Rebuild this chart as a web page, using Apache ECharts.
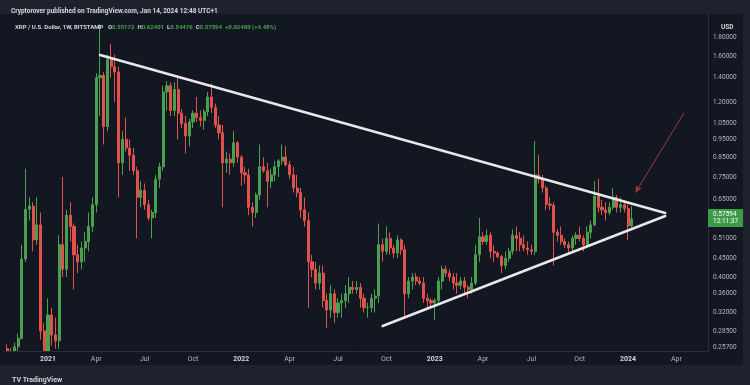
<!DOCTYPE html>
<html>
<head>
<meta charset="utf-8">
<script src="https://cdn.jsdelivr.net/npm/echarts@6/dist/echarts.min.js"></script>
<style>
html,body{margin:0;padding:0;background:#131722;}
#chart{width:750px;height:385px;}
</style>
</head>
<body>
<div id="chart"></div>
<script>
// ---- weekly candles XRP/USD (Bitstamp), first week 2020-10-19, last week 2024-01-08 ----
const firstWeek = '2020-10-19';
const totalWeeks = 189; // includes empty future weeks on the axis
const openP = [
 0.255,0.250,0.241,0.258,0.272,0.448,0.612,0.625,0.505,0.555,0.285,
 0.235,0.315,0.278,0.268,0.490,0.420,0.590,0.550,0.460,0.440,
 0.480,0.500,0.550,0.630,1.400,1.420,1.030,1.570,1.500,1.450,
 0.820,0.950,0.900,0.860,0.780,0.660,0.690,0.630,0.580,0.600,
 0.740,0.800,1.280,1.330,1.140,1.300,1.120,1.050,0.970,1.060,
 1.120,1.090,1.070,1.130,1.240,1.160,1.040,0.990,0.820,0.840,
 0.820,0.930,0.850,0.770,0.760,0.620,0.600,0.670,0.800,0.780,
 0.730,0.760,0.800,0.830,0.850,0.810,0.760,0.700,0.680,0.610,
 0.570,0.440,0.420,0.385,0.410,0.345,0.325,0.360,0.320,0.340,
 0.345,0.360,0.375,0.370,0.375,0.350,0.330,0.330,0.350,0.355,
 0.490,0.470,0.510,0.480,0.465,0.505,0.475,0.360,0.390,0.400,
 0.390,0.385,0.350,0.345,0.340,0.345,0.390,0.420,0.410,0.400,
 0.385,0.380,0.390,0.375,0.370,0.385,0.460,0.515,0.500,0.520,
 0.470,0.465,0.455,0.430,0.450,0.470,0.520,0.510,0.490,0.480,
 0.475,0.470,0.760,0.740,0.700,0.632,0.628,0.530,0.520,0.500,
 0.490,0.480,0.510,0.520,0.510,0.490,0.530,0.555,0.665,0.620,
 0.610,0.600,0.620,0.660,0.620,0.630,0.615,0.55172
];
const highP = [
 0.262,0.256,0.265,0.280,0.490,0.790,0.660,0.640,0.660,0.600,0.300,
 0.350,0.330,0.310,0.520,0.750,0.610,0.640,0.560,0.490,0.500,
 0.530,0.600,0.660,1.440,1.960,1.450,1.620,1.730,1.620,1.500,
 1.000,1.090,0.950,0.900,0.800,0.730,0.720,0.650,0.610,0.760,
 0.820,1.330,1.370,1.360,1.360,1.400,1.150,1.100,1.080,1.140,
 1.240,1.140,1.150,1.280,1.350,1.190,1.100,1.040,0.880,0.870,
 1.000,0.940,0.860,0.800,0.790,0.640,0.680,0.920,0.850,0.820,
 0.790,0.830,0.840,0.920,0.910,0.830,0.800,0.760,0.700,0.660,
 0.600,0.460,0.440,0.430,0.430,0.360,0.380,0.370,0.350,0.360,
 0.380,0.400,0.390,0.390,0.385,0.360,0.340,0.360,0.370,0.560,
 0.510,0.550,0.530,0.490,0.520,0.510,0.490,0.400,0.410,0.410,
 0.400,0.400,0.360,0.350,0.350,0.400,0.430,0.430,0.420,0.410,
 0.410,0.400,0.400,0.380,0.400,0.490,0.580,0.530,0.540,0.530,
 0.490,0.470,0.460,0.470,0.480,0.540,0.550,0.530,0.520,0.500,
 0.490,0.940,0.860,0.760,0.710,0.660,0.640,0.540,0.550,0.510,
 0.500,0.520,0.530,0.550,0.520,0.550,0.570,0.730,0.740,0.650,
 0.640,0.640,0.700,0.670,0.660,0.650,0.630,0.62401
];
const lowP = [
 0.242,0.235,0.236,0.248,0.270,0.440,0.570,0.470,0.490,0.270,0.170,
 0.210,0.260,0.255,0.255,0.400,0.400,0.500,0.370,0.410,0.420,
 0.440,0.470,0.530,0.600,1.100,0.920,1.000,1.400,1.200,0.660,
 0.760,0.880,0.780,0.760,0.510,0.620,0.610,0.570,0.510,0.580,
 0.700,0.780,1.140,1.100,1.100,0.950,1.020,0.870,0.910,1.020,
 1.060,1.030,1.010,1.100,1.120,1.020,0.950,0.620,0.770,0.760,
 0.800,0.820,0.710,0.720,0.590,0.550,0.580,0.650,0.770,0.620,
 0.700,0.730,0.750,0.810,0.800,0.740,0.680,0.660,0.580,0.550,
 0.330,0.400,0.370,0.370,0.330,0.290,0.310,0.300,0.310,0.310,
 0.330,0.340,0.360,0.360,0.330,0.320,0.310,0.320,0.320,0.340,
 0.440,0.460,0.460,0.450,0.450,0.460,0.310,0.350,0.370,0.380,
 0.380,0.340,0.330,0.330,0.305,0.340,0.370,0.400,0.390,0.370,
 0.360,0.370,0.360,0.350,0.360,0.380,0.440,0.490,0.490,0.450,
 0.440,0.450,0.410,0.420,0.440,0.460,0.470,0.470,0.470,0.460,
 0.460,0.460,0.720,0.680,0.610,0.610,0.430,0.500,0.490,0.480,
 0.460,0.470,0.490,0.500,0.470,0.480,0.510,0.550,0.600,0.590,
 0.570,0.590,0.610,0.600,0.600,0.600,0.505,0.54476
];
const closeP = [
 0.250,0.241,0.258,0.272,0.448,0.612,0.625,0.505,0.555,0.285,0.235,
 0.315,0.278,0.268,0.490,0.420,0.590,0.550,0.460,0.440,0.480,
 0.500,0.550,0.630,1.400,1.420,1.030,1.570,1.500,1.450,0.820,
 0.950,0.900,0.860,0.780,0.660,0.690,0.630,0.580,0.600,0.740,
 0.800,1.280,1.330,1.140,1.300,1.120,1.050,0.970,1.060,1.120,
 1.090,1.070,1.130,1.240,1.160,1.040,0.990,0.820,0.840,0.820,
 0.930,0.850,0.770,0.760,0.620,0.600,0.670,0.800,0.780,0.730,
 0.760,0.800,0.830,0.850,0.810,0.760,0.700,0.680,0.610,0.570,
 0.440,0.420,0.385,0.410,0.345,0.325,0.360,0.320,0.340,0.345,
 0.360,0.375,0.370,0.375,0.350,0.330,0.330,0.350,0.355,0.490,
 0.470,0.510,0.480,0.465,0.505,0.475,0.360,0.390,0.400,0.390,
 0.385,0.350,0.345,0.340,0.345,0.390,0.420,0.410,0.400,0.385,
 0.380,0.390,0.375,0.370,0.385,0.460,0.515,0.500,0.520,0.470,
 0.465,0.455,0.430,0.450,0.470,0.520,0.510,0.490,0.480,0.475,
 0.470,0.760,0.740,0.700,0.632,0.628,0.530,0.520,0.500,0.490,
 0.480,0.510,0.520,0.510,0.490,0.530,0.555,0.665,0.620,0.610,
 0.600,0.620,0.660,0.620,0.630,0.615,0.55114,0.57594
];
// price-scale labels (USD, log scale)
const priceTicks = [1.8,1.6,1.4,1.2,1.05,0.95,0.85,0.75,0.65,0.51,0.45,0.40,0.36,0.32,0.285,0.257];
// drawn trend lines (week, price)
const upperLineWeeks = ['2021-04-12','2024-03-11'];
const upperLineVals  = [1.615, 0.598];
const lowerLineWeeks = ['2022-09-26','2024-03-11'];
const lowerLineVals  = [0.294, 0.587];
const arrowWeeks = ['2024-04-15','2024-01-15'];
const arrowVals  = [1.12, 0.68];
const lastPrice = 0.57594;
const countdown = '12:11:37';

// ---- build categories (weekly) ----
const weeks = [];
const t0 = Date.parse(firstWeek + 'T00:00:00Z');
for (let i = 0; i < totalWeeks; i++) {
  weeks.push(new Date(t0 + i * 7 * 86400000).toISOString().slice(0, 10));
}
const candles = weeks.map((w, i) => i < openP.length ? [openP[i], closeP[i], lowP[i], highP[i]] : '-');
const monthNames = ['Jan','Feb','Mar','Apr','May','Jun','Jul','Aug','Sep','Oct','Nov','Dec'];
const mon = s => parseInt(s.slice(5, 7), 10) - 1;
function isLabel(i) {
  if (i === 0) return false;
  const m = mon(weeks[i]);
  return m % 3 === 0 && m !== mon(weeks[i - 1]);
}

const UP = '#4ba04f', DOWN = '#e0534d';
const FONT = 'Roboto, "Noto Sans", sans-serif';

const chart = echarts.init(document.getElementById('chart'), null, {renderer: 'canvas'});
chart.setOption({
  animation: false,
  backgroundColor: '#131722',
  graphic: [
    {type: 'rect', shape: {x: 0, y: 351.5, width: 743, height: 14}, style: {fill: '#131722'}, silent: true, z: 50},
    {type: 'rect', shape: {x: 0, y: 0, width: 750, height: 14}, style: {fill: '#1e222d'}, silent: true, z: 50},
    {type: 'rect', shape: {x: 0, y: 365, width: 750, height: 20}, style: {fill: '#1e222d'}, silent: true, z: 50},
    {type: 'rect', shape: {x: 743, y: 0, width: 7, height: 385}, style: {fill: '#1e222d'}, silent: true, z: 50}
  ],
  title: [
    {text: 'Cryptorover published on TradingView.com, Jan 14, 2024 12:48 UTC+1', left: 6, top: 3, z: 100,
     textStyle: {color: '#d1d4dc', fontSize: 6.5, fontWeight: 'bold', fontFamily: FONT}},
    {text: 'XRP / U.S. Dollar, 1W, BITSTAMP   O{g|0.55172}  H{g|0.62401}  L{g|0.54476}  C{g|0.57594}  {g|+0.02480 (+4.48%)}',
     left: 10, top: 19, z: 100,
     textStyle: {color: '#d1d4dc', fontSize: 6, fontFamily: FONT,
       rich: {g: {color: UP, fontSize: 6, fontFamily: FONT}}}},
    {text: 'USD', left: 716, top: 19, z: 100, textStyle: {color: '#d1d4dc', fontSize: 6.5, fontWeight: 'bold', fontFamily: FONT}},
    {text: '{l|TV} TradingView', left: 7, top: 372, z: 100,
     textStyle: {color: '#d1d4dc', fontSize: 7, fontFamily: FONT,
       rich: {l: {color: '#d1d4dc', fontSize: 7, fontWeight: 'bold', fontFamily: FONT}}}}
  ],
  grid: {left: 5.2, right: 42, top: 14, bottom: 34},
  xAxis: {
    type: 'category', data: weeks, boundaryGap: true, z: 100,
    axisLine: {show: true, lineStyle: {color: '#2a2e39'}},
    axisTick: {show: false},
    splitLine: {show: false},
    axisLabel: {
      interval: (i) => isLabel(i),
      formatter: (v) => mon(v) === 0 ? '{y|' + v.slice(0, 4) + '}' : monthNames[mon(v)],
      color: '#b2b5be', fontSize: 7, fontFamily: FONT, margin: 5,
      rich: {y: {color: '#d1d4dc', fontSize: 7, fontWeight: 'bold', fontFamily: FONT}}
    }
  },
  yAxis: {
    type: 'log', logBase: 10, position: 'right', z: 100,
    min: 0.2513, max: 2.089,
    axisLine: {show: true, lineStyle: {color: '#2a2e39'}},
    axisTick: {show: false},
    splitLine: {show: false},
    axisLabel: {
      customValues: priceTicks,
      formatter: (v) => Number(v).toFixed(5),
      color: '#b2b5be', fontSize: 6.5, fontFamily: FONT, margin: 5
    }
  },
  series: [
    {
      type: 'candlestick', name: 'XRP', data: candles, barWidth: 2.6, clip: true,
      itemStyle: {color: UP, color0: DOWN, borderColor: UP, borderColor0: DOWN, borderWidth: 1},
      markLine: {
        silent: true, symbol: ['none', 'none'], z: 120,
        lineStyle: {color: 'rgba(0,0,0,0)', width: 0},
        label: {
          show: true, position: 'end', distance: 0,
          formatter: lastPrice.toFixed(5) + '\n' + countdown,
          backgroundColor: '#3d9b47', color: '#ffffff', padding: [2, 5, 1, 5],
          fontSize: 6.5, lineHeight: 7.5, fontFamily: FONT
        },
        data: [{yAxis: lastPrice}]
      }
    },
    {
      type: 'line', name: 'upper', symbol: 'none', z: 5, clip: true,
      data: upperLineWeeks.map((w, i) => [w, upperLineVals[i]]),
      lineStyle: {color: '#e8e8ea', width: 2.5, cap: 'round'}
    },
    {
      type: 'line', name: 'lower', symbol: 'none', z: 5, clip: true,
      data: lowerLineWeeks.map((w, i) => [w, lowerLineVals[i]]),
      lineStyle: {color: '#e8e8ea', width: 2.5, cap: 'round'}
    },
    {
      type: 'line', name: 'arrow', data: [], symbol: 'none',
      markLine: {
        silent: true, symbol: ['none', 'arrow'], symbolSize: [5, 7],
        lineStyle: {color: '#9a3c3c', width: 1, type: 'solid'},
        label: {show: false},
        data: [[{coord: [arrowWeeks[0], arrowVals[0]]}, {coord: [arrowWeeks[1], arrowVals[1]]}]]
      }
    }
  ]
});
</script>
</body>
</html>
